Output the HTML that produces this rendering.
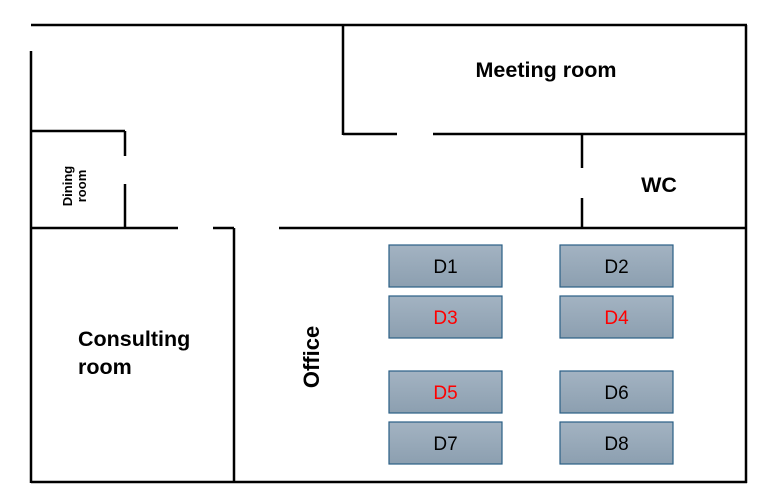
<!DOCTYPE html>
<html><head><meta charset="utf-8"><style>
body{margin:0;background:#fff;width:773px;height:502px;overflow:hidden}
svg{display:block}
text{font-family:"Liberation Sans",sans-serif;font-weight:bold;fill:#000}
.desk text{font-weight:normal;font-size:19px}
</style></head><body>
<svg width="773" height="502" viewBox="0 0 773 502">
<defs><linearGradient id="g" x1="0" y1="0" x2="0" y2="1"><stop offset="0" stop-color="#a3b3c2"/><stop offset="1" stop-color="#8c9fb0"/></linearGradient></defs>
<g stroke="#000" stroke-width="2.5" fill="none">
<line x1="31" y1="25" x2="747" y2="25"/>
<line x1="31" y1="51" x2="31" y2="483"/>
<line x1="31" y1="482" x2="747" y2="482"/>
<line x1="746" y1="25" x2="746" y2="483"/>
<line x1="31" y1="131" x2="125" y2="131"/>
<line x1="125" y1="131" x2="125" y2="156"/>
<line x1="125" y1="184" x2="125" y2="228"/>
<line x1="31" y1="228" x2="178" y2="228"/>
<line x1="213" y1="228" x2="234" y2="228"/>
<line x1="234" y1="228" x2="234" y2="482"/>
<line x1="279" y1="228" x2="746" y2="228"/>
<line x1="343" y1="25" x2="343" y2="135"/>
<line x1="343" y1="134" x2="397" y2="134"/>
<line x1="433" y1="134" x2="746" y2="134"/>
<line x1="582" y1="134" x2="582" y2="168"/>
<line x1="582" y1="198" x2="582" y2="228"/>
</g>
<text x="546" y="77" font-size="21.5" text-anchor="middle">Meeting room</text>
<text x="659" y="192" font-size="21.5" text-anchor="middle">WC</text>
<text x="78" y="346" font-size="21.5">Consulting</text>
<text x="78" y="374" font-size="21.5">room</text>
<text transform="translate(319,357) rotate(-90)" font-size="22" text-anchor="middle">Office</text>
<g transform="translate(72,186) rotate(-90)">
<text x="0" y="0" font-size="13" text-anchor="middle">Dining</text>
<text x="0" y="14" font-size="13" text-anchor="middle">room</text>
</g>
<g class="desk"><rect x="389" y="245" width="113" height="42" fill="url(#g)" stroke="#2a5f85" stroke-width="1.2"/><text x="445.5" y="273" text-anchor="middle">D1</text></g>
<g class="desk"><rect x="560" y="245" width="113" height="42" fill="url(#g)" stroke="#2a5f85" stroke-width="1.2"/><text x="616.5" y="273" text-anchor="middle">D2</text></g>
<g class="desk"><rect x="389" y="296" width="113" height="42" fill="url(#g)" stroke="#2a5f85" stroke-width="1.2"/><text x="445.5" y="324" text-anchor="middle" style="fill:#f00">D3</text></g>
<g class="desk"><rect x="560" y="296" width="113" height="42" fill="url(#g)" stroke="#2a5f85" stroke-width="1.2"/><text x="616.5" y="324" text-anchor="middle" style="fill:#f00">D4</text></g>
<g class="desk"><rect x="389" y="371" width="113" height="42" fill="url(#g)" stroke="#2a5f85" stroke-width="1.2"/><text x="445.5" y="399" text-anchor="middle" style="fill:#f00">D5</text></g>
<g class="desk"><rect x="560" y="371" width="113" height="42" fill="url(#g)" stroke="#2a5f85" stroke-width="1.2"/><text x="616.5" y="399" text-anchor="middle">D6</text></g>
<g class="desk"><rect x="389" y="422" width="113" height="42" fill="url(#g)" stroke="#2a5f85" stroke-width="1.2"/><text x="445.5" y="450" text-anchor="middle">D7</text></g>
<g class="desk"><rect x="560" y="422" width="113" height="42" fill="url(#g)" stroke="#2a5f85" stroke-width="1.2"/><text x="616.5" y="450" text-anchor="middle">D8</text></g>
</svg>
</body></html>
